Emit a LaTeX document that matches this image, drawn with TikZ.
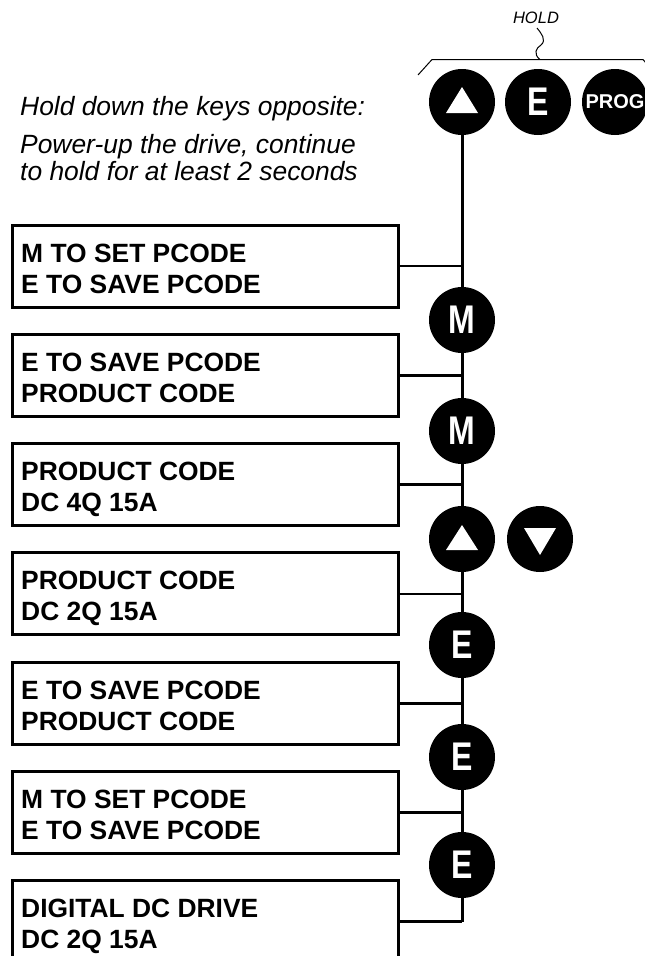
\documentclass[tikz,border=0pt]{standalone}
\usepackage{fontspec}
\setmainfont{Liberation Sans}
\newfontfamily\keyfont[FakeStretch=0.8]{Liberation Sans}
\newcommand\lcdbox[4]{%
  \node[lcd] (#1) at (205,#2+41) {};
  \node[lcdtext] (#1a) at (21,#2+37) {#3};
  \node[lcdtext] (#1b) at (21,#2+68) {#4};
  \coordinate (#1j) at (462,#2+41);
}
\begin{document}
\begin{tikzpicture}[x=1pt,y=-1pt,
  lcd/.style={draw, line width=3pt, minimum width=386pt, minimum height=82pt, inner sep=0pt},
  lcdtext/.style={anchor=base west, inner sep=0pt, font=\fontsize{26.4}{30}\selectfont\bfseries},
  key/.style={circle, fill=black, minimum size=66pt, inner sep=0pt, text=white,
              font=\keyfont\fontsize{40}{40}\selectfont\bfseries},
  progkey/.style={key, font=\fontsize{20}{20}\selectfont\bfseries},
  wire/.style={line width=2.7pt},
  spine/.style={line width=3pt},
  thin line/.style={line width=1pt},
  note/.style={anchor=base west, inner sep=0pt, font=\fontsize{26.4}{27}\selectfont\itshape},
]
\useasboundingbox (0,0) rectangle (645,956);

% notes
\node[note] (n1) at (20,115) {Hold down the keys opposite:};
\node[note] (n2) at (20,153) {Power-up the drive, continue};
\node[note] (n3) at (20,180) {to hold for at least 2 seconds};

% HOLD label and bracket
\node[anchor=base, inner sep=0pt, font=\fontsize{16.5}{17}\selectfont\itshape] (hold) at (536,23) {HOLD};
\coordinate (brL) at (418,75);
\coordinate (brA) at (432,59.5);
\coordinate (brM) at (540,59.5);
\coordinate (brB) at (643,59.5);
\coordinate (brR) at (652,70);
\draw[thin line] (brL) -- (brA) -- (brB) -- (brR);
\draw[thin line] (brM) .. controls (533,54) and (536,48) .. (541,45)
                       .. controls (547,40) and (541,33) .. (537,28);

% LCD boxes
\lcdbox{b1}{225}{M TO SET PCODE}{E TO SAVE PCODE}
\lcdbox{b2}{334.3}{E TO SAVE PCODE}{PRODUCT CODE}
\lcdbox{b3}{443.6}{PRODUCT CODE}{DC 4Q 15A}
\lcdbox{b4}{552.9}{PRODUCT CODE}{DC 2Q 15A}
\lcdbox{b5}{662.2}{E TO SAVE PCODE}{PRODUCT CODE}
\lcdbox{b6}{771.5}{M TO SET PCODE}{E TO SAVE PCODE}
\lcdbox{b7}{880.8}{DIGITAL DC DRIVE}{DC 2Q 15A}

% keys
\node[key] (kU) at (462,102) {};
\node[key] (kE0) at (538,102) {E};
\node[progkey] (kP) at (615,102) {PROG};
\node[key] (kM1) at (462,320) {M};
\node[key] (kM2) at (462,431) {M};
\node[key] (kU2) at (462,539) {};
\node[key] (kD) at (540,539) {};
\node[key] (kE1) at (462,645) {E};
\node[key] (kE2) at (462,757) {E};
\node[key] (kE3) at (462,865) {E};

\fill[white,shift={(kU.center)}] (0,-15) -- (16,11) -- (-16,11) -- cycle;
\fill[white,shift={(kU2.center)}] (0,-14) -- (16,11) -- (-16,11) -- cycle;
\fill[white,shift={(kD.center)}] (-16,-11) -- (16,-11) -- (0,16) -- cycle;

% spine
\draw[spine] (kU.south) -- (b1j) -- (kM1.north);
\draw[spine] (kM1.south) -- (b2j) -- (kM2.north);
\draw[spine] (kM2.south) -- (b3j) -- (kU2.north);
\draw[spine] (kU2.south) -- (b4j) -- (kE1.north);
\draw[spine] (kE1.south) -- (b5j) -- (kE2.north);
\draw[spine] (kE2.south) -- (b6j) -- (kE3.north);
\draw[spine] (kE3.south) -- (b7j);

% box connectors
\foreach \b in {b1,b2,b3,b4,b5,b6,b7}
  \draw[wire] (\b.east) -- (\b j);
\end{tikzpicture}
\end{document}
